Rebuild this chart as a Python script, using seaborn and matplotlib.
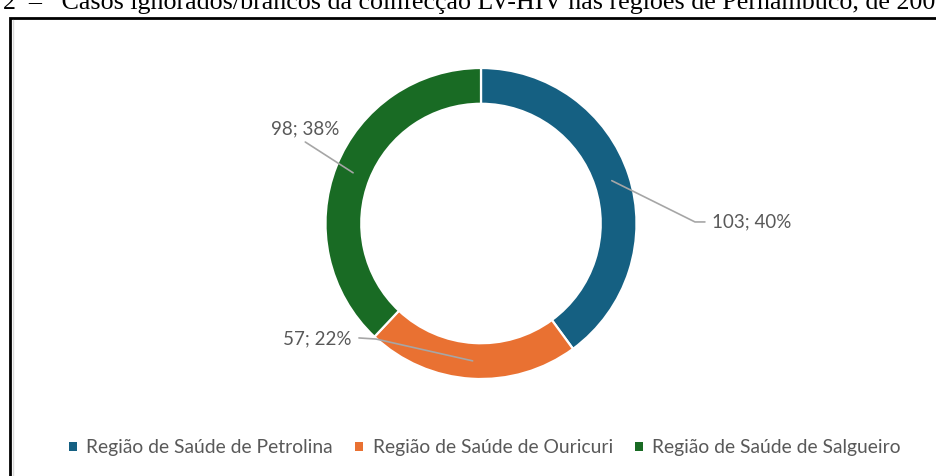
import matplotlib
matplotlib.use("Agg")
import matplotlib.pyplot as plt
import numpy as np
import seaborn as sns
from matplotlib.patches import Patch, Rectangle
from matplotlib.lines import Line2D

# data
regions = ["Região de Saúde de Petrolina", "Região de Saúde de Ouricuri", "Região de Saúde de Salgueiro"]
cases = [103, 57, 98]
colors = ["#156082", "#E97132", "#196B24"]
title = "2  –   Casos ignorados/brancos da coinfecção LV-HIV nas regiões de Pernambuco, de 2007 a 2023"

sns.set_theme(style="white")
plt.rcParams["font.family"] = ["Lato", "DejaVu Sans"]

W, H = 936, 476
fig = plt.figure(figsize=(W / 100, H / 100), dpi=100)

# donut placed in pixel space: centre and outer radius
cx, cy, R = 481, 223.5, 155.5
ax = fig.add_axes([(cx - R) / W, (H - cy - R) / H, 2 * R / W, 2 * R / H])
wedges, _ = ax.pie(cases, colors=colors, startangle=90, counterclock=False, radius=1,
                   wedgeprops=dict(width=0.23, edgecolor="white", linewidth=1.6))
ax.set_xlim(-1, 1)
ax.set_ylim(-1, 1)
ax.set_aspect("equal")
ax.axis("off")

total = sum(cases)
# label layout: (leader bend points, text position, alignment)
layout = [
    ([(1.376, 0.01), (1.44, 0.01)], (1.485, 0.01), "left"),
    ([(-0.675, -0.743), (-0.785, -0.736)], (-0.83, -0.745), "right"),
    ([(-1.13, 0.524)], (-1.13, 0.61), "center"),
]
for w, n, (pts, tpos, ha) in zip(wedges, cases, layout):
    mid = np.deg2rad((w.theta1 + w.theta2) / 2)
    x0, y0 = 0.885 * np.cos(mid), 0.885 * np.sin(mid)
    xs = [x0] + [p[0] for p in pts]
    ys = [y0] + [p[1] for p in pts]
    ax.add_line(Line2D(xs, ys, color="#A6A6A6", lw=1.2, clip_on=False))
    ax.text(tpos[0], tpos[1], f"{n}; {round(100 * n / total)}%", ha=ha, va="center",
            fontsize=13.5, color="#595959")

# legend
handles = [Patch(facecolor=c, edgecolor="none") for c in colors]
fig.legend(handles, regions, loc="center", bbox_to_anchor=(485 / W, 1 - 448 / H), ncol=3,
           frameon=False, handlelength=0.4, handleheight=0.4, handletextpad=0.5,
           columnspacing=1.15, fontsize=13.9, labelcolor="#595959")

# chart frame and caption
fig.add_artist(Rectangle((10 / W, -0.1), 1.2, (H - 18) / H + 0.1, transform=fig.transFigure,
                         fill=False, lw=2, edgecolor="black"))
fig.add_artist(Line2D([12.5 / W, 12.5 / W], [0, (H - 20) / H], transform=fig.transFigure,
                      color="#D9D9D9", lw=1))
fig.text(3 / W, 1 - 9 / H, title, family=["Liberation Serif"], fontsize=18.7, va="baseline",
         ha="left", color="black")

fig.savefig("out.png", dpi=100, facecolor="white")
